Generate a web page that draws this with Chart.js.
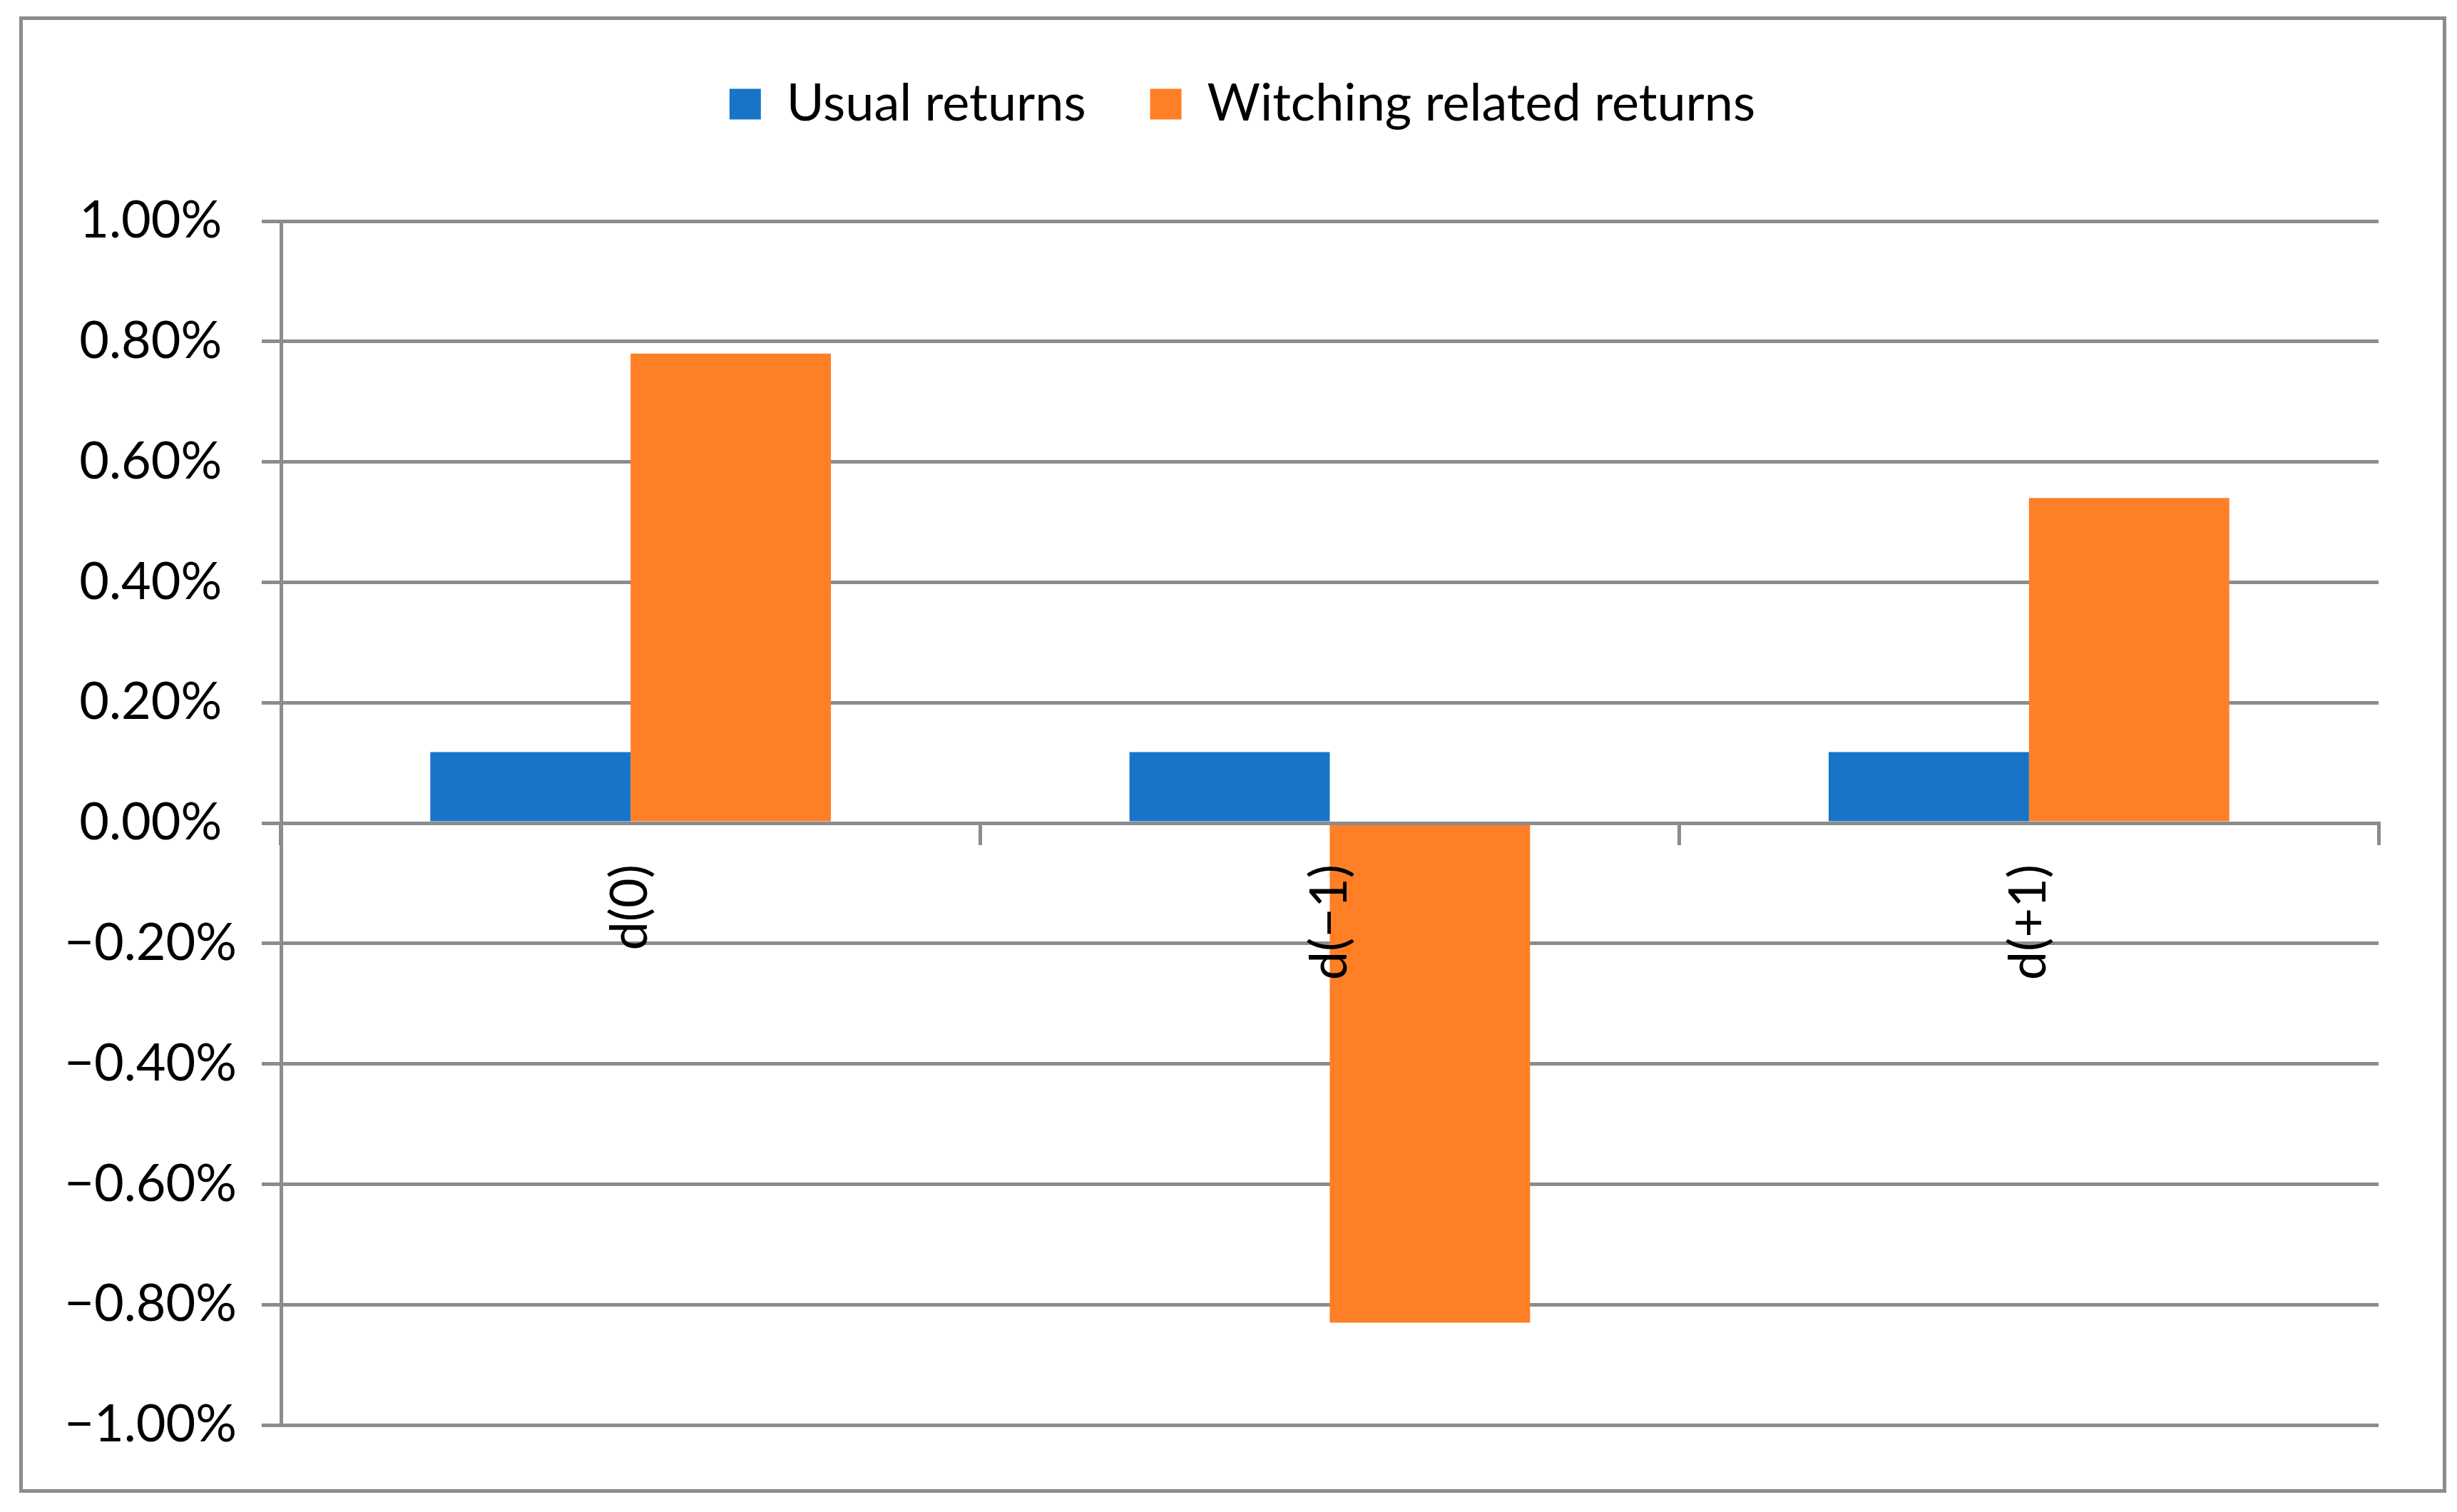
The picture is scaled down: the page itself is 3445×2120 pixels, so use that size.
<!DOCTYPE html>
<html>
<head>
<meta charset="utf-8">
<script src="https://cdn.jsdelivr.net/npm/chart.js@4.4.1/dist/chart.umd.min.js"></script>
<style>
  html, body { margin: 0; padding: 0; background: #fff; }
  #wrap { position: relative; width: 3445px; height: 2120px; }
  #frame {
    position: absolute; left: 27px; top: 23px; width: 3403px; height: 2070px;
    box-sizing: border-box; border: 5px solid #8c8c8c;
  }
  #graf { position: absolute; left: 0; top: 0; }
</style>
</head>
<body>
<div id="wrap">
  <div id="frame"></div>
  <canvas id="graf" width="3445" height="2120"></canvas>
</div>
<script>
// kategorier och serier (i procent)
const dagar = ['d(0)', 'd(\u22121)', 'd(+1)'];
const vanligaAvkastningar = [0.118, 0.118, 0.118];
const haxAvkastningar = [0.78, -0.83, 0.54];
const serieNamn = ['Usual returns', 'Witching related returns'];

const gra = '#8c8c8c';
const typsnitt = 'Lato, "Open Sans", sans-serif';

// extra luft under legenden, och legenden centrerad över hela ramen
const legendLuft = {
  id: 'legendLuft',
  beforeInit(chart) {
    const fit = chart.legend.fit;
    chart.legend.fit = function () {
      fit.call(this);
      this.height += 118;
    };
  },
  afterLayout(chart) {
    chart.legend.left += 149;
  }
};

function procent(v) {
  const r = Math.round(v * 100) / 100;
  return (r < 0 ? '\u2212' : '') + Math.abs(r).toFixed(2) + '%';
}

const graf = document.getElementById('graf');

new Chart(graf, {
  type: 'bar',
  data: {
    labels: dagar,
    datasets: [{
      label: serieNamn[0],
      data: vanligaAvkastningar,
      backgroundColor: '#1874c8',
      borderWidth: 0
    }, {
      label: serieNamn[1],
      data: haxAvkastningar,
      backgroundColor: '#ff7f27',
      borderWidth: 0
    }]
  },
  options: {
    responsive: false,
    animation: false,
    devicePixelRatio: 1,
    layout: { padding: { left: 0, right: 110, top: 20, bottom: 122 } },
    datasets: {
      bar: { categoryPercentage: 0.573, barPercentage: 1.0 }
    },
    plugins: {
      tooltip: { enabled: false },
      legend: {
        position: 'top',
        labels: {
          font: { family: typsnitt, size: 72 },
          color: '#000',
          boxWidth: 44,
          boxHeight: 43,
          padding: 90
        }
      }
    },
    scales: {
      x: {
        type: 'category',
        position: { y: 0 },
        offset: true,
        grid: {
          offset: true,
          drawOnChartArea: false,
          color: gra,
          lineWidth: 5,
          tickLength: 28,
          z: 1
        },
        border: { display: true, color: gra, width: 5, z: 1 },
        ticks: {
          font: { family: typsnitt, size: 72 },
          color: '#000',
          minRotation: 90,
          maxRotation: 90,
          padding: 30,
          z: 1
        }
      },
      y: {
        min: -1,
        max: 1,
        afterFit(scale) { scale.width = 394; },
        grid: { color: gra, lineWidth: 5, tickLength: 27 },
        border: { display: true, color: gra, width: 5 },
        ticks: {
          stepSize: 0.2,
          font: { family: typsnitt, size: 72 },
          color: '#000',
          crossAlign: 'center',
          padding: 35,
          callback: (v) => procent(v)
        }
      }
    }
  },
  plugins: [legendLuft]
});
</script>
</body>
</html>
